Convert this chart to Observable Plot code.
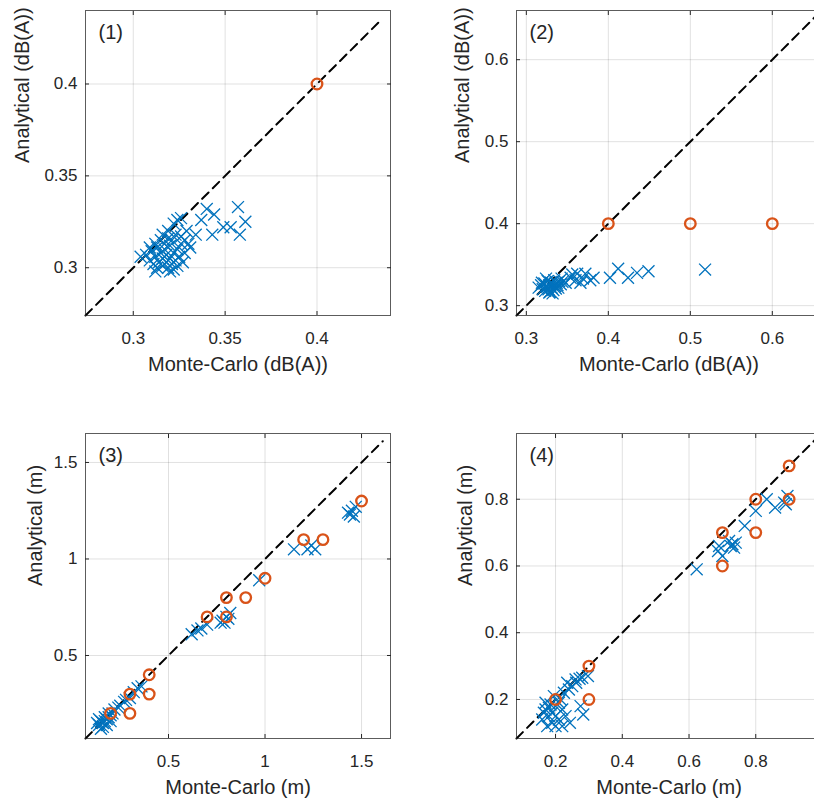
<!DOCTYPE html>
<html><head><meta charset="utf-8">
<script src="https://cdn.jsdelivr.net/npm/d3@7"></script>
<script src="https://cdn.jsdelivr.net/npm/@observablehq/plot@0.6"></script>
<style>
html,body{margin:0;padding:0;background:#fff;}
#root{position:relative;width:814px;height:798px;overflow:hidden;background:#fff;}
.panel{position:absolute;}
</style></head><body><div id="root"></div>
<script>
// ---------- Panel (1) ----------
const p1Ticks = [0.3, 0.35, 0.4];
const p1CrossX = [0.357,0.361,0.358,0.353,0.349,0.340,0.344,0.343,0.337,0.334,0.329,0.331,0.324,0.326,0.322,0.319,0.316,0.315,0.312,0.309,0.304,0.307,
  0.309,0.311,0.312,0.313,0.314,0.315,0.316,0.316,0.317,0.318,0.318,0.319,0.320,0.320,0.321,0.322,0.322,0.323,0.324,0.324,0.325,0.326,0.327,0.328,0.310,0.313,0.317,0.319,0.321,0.323,0.326,0.328,0.330,0.312,0.320];
const p1CrossY = [0.333,0.325,0.318,0.322,0.322,0.332,0.329,0.318,0.326,0.318,0.320,0.311,0.326,0.327,0.324,0.320,0.318,0.315,0.313,0.311,0.306,0.307,
  0.304,0.302,0.306,0.300,0.303,0.308,0.305,0.301,0.310,0.303,0.307,0.300,0.305,0.312,0.302,0.308,0.299,0.304,0.310,0.301,0.306,0.313,0.303,0.308,0.309,0.311,0.313,0.316,0.315,0.318,0.317,0.315,0.313,0.298,0.298];
const p1CircX = [0.4];
const p1CircY = [0.4];

// ---------- Panel (2) ----------
const p2Ticks = [0.3, 0.4, 0.5, 0.6];
const p2CrossX = [0.518,0.449,0.435,0.424,0.412,0.402,0.382,0.372,0.366,0.362,0.378,0.354,0.348,0.369,0.360,0.356,
  0.315,0.318,0.320,0.322,0.323,0.325,0.326,0.327,0.328,0.329,0.330,0.331,0.332,0.333,0.334,0.335,0.336,0.337,0.338,0.340,0.342,0.344,0.324,0.328,0.332,0.339,0.319,0.343];
const p2CrossY = [0.344,0.342,0.340,0.334,0.345,0.334,0.334,0.339,0.328,0.339,0.331,0.334,0.328,0.333,0.331,0.338,
  0.322,0.325,0.320,0.327,0.318,0.323,0.330,0.320,0.325,0.317,0.328,0.322,0.326,0.319,0.331,0.324,0.321,0.328,0.325,0.330,0.326,0.329,0.333,0.316,0.315,0.322,0.328,0.333];
const p2CircX = [0.4, 0.5, 0.6];
const p2CircY = [0.4, 0.4, 0.4];

// ---------- Panel (3) ----------
const p3Ticks = [0.5, 1, 1.5];
const p3CrossX = [1.45,1.44,1.47,1.46,1.43,1.15,1.22,1.24,1.26,0.97,0.78,0.80,0.82,0.79,0.81,0.77,0.62,0.65,0.67,0.70,
  0.36,0.34,0.32,0.30,0.28,0.27,0.25,0.24,0.22,0.21,0.20,0.19,0.18,0.17,0.16,0.15,0.14,0.16,0.15,0.18,0.17,0.19,0.13,0.14,0.20];
const p3CrossY = [1.25,1.23,1.27,1.22,1.24,1.05,1.05,1.07,1.05,0.89,0.68,0.70,0.72,0.67,0.69,0.67,0.61,0.63,0.64,0.66,
  0.34,0.33,0.31,0.28,0.27,0.26,0.24,0.23,0.22,0.20,0.19,0.18,0.17,0.16,0.15,0.16,0.14,0.13,0.12,0.14,0.18,0.20,0.15,0.17,0.16];
const p3CircX = [1.5,1.2,1.3,1.0,0.8,0.9,0.7,0.8,0.4,0.3,0.4,0.3,0.2];
const p3CircY = [1.3,1.1,1.1,0.9,0.8,0.8,0.7,0.7,0.4,0.3,0.3,0.2,0.2];

// ---------- Panel (4) ----------
const p4Ticks = [0.2, 0.4, 0.6, 0.8];
const p4CrossX = [0.623,0.687,0.69,0.72,0.73,0.735,0.725,0.74,0.767,0.80,0.833,0.858,0.885,0.895,0.89,0.70,
  0.297,0.28,0.272,0.262,0.25,0.24,0.235,0.225,0.283,0.275,0.243,0.22,0.21,0.20,0.19,0.18,0.17,0.16,0.175,0.19,0.20,0.21,0.215,0.195,0.185,0.17,0.20,0.23,0.22,0.18,0.165,0.26];
const p4CrossY = [0.59,0.645,0.66,0.675,0.665,0.655,0.66,0.67,0.72,0.765,0.80,0.775,0.79,0.81,0.785,0.63,
  0.27,0.265,0.262,0.25,0.24,0.23,0.25,0.22,0.155,0.18,0.13,0.17,0.19,0.18,0.16,0.15,0.17,0.14,0.12,0.13,0.12,0.14,0.20,0.21,0.185,0.19,0.15,0.15,0.12,0.175,0.16,0.26];
const p4CircX = [0.9,0.9,0.8,0.8,0.7,0.7,0.3,0.3,0.2];
const p4CircY = [0.9,0.8,0.8,0.7,0.7,0.6,0.3,0.2,0.2];

const BLUE = "#0072BD", ORANGE = "#D95319", INK = "#262626";
const ML = 80, MR = 10, MT = 10, MB = 75, BOX = 305;

function panel(cfg) {
  const cross = cfg.crossX.map((x, i) => ({x, y: cfg.crossY[i]}));
  const circ = cfg.circX.map((x, i) => ({x, y: cfg.circY[i]}));
  const fmt = d => String(d);
  const chart = Plot.plot({
    width: ML + BOX + MR,
    height: MT + BOX + MB,
    marginLeft: ML, marginRight: MR, marginTop: MT, marginBottom: MB,
    style: {fontFamily: "'Liberation Sans', Arial, sans-serif", fontSize: "17px", color: INK, background: "transparent", overflow: "visible"},
    x: {domain: cfg.domain, label: null},
    y: {domain: cfg.domain, label: null},
    marks: [
      Plot.gridX(cfg.ticks, {stroke: "#000", strokeOpacity: 0.12}),
      Plot.gridY(cfg.ticks, {stroke: "#000", strokeOpacity: 0.12}),
      Plot.line(cfg.diag, {x: d => d, y: d => d, stroke: "#000", strokeWidth: 2, strokeDasharray: "9,6"}),
      Plot.dot(cross, {x: "x", y: "y", symbol: "times", r: 5.5, stroke: BLUE, strokeWidth: 1.3}),
      Plot.dot(circ, {x: "x", y: "y", symbol: "circle", r: 5.3, stroke: ORANGE, strokeWidth: 2.3, fill: "none"}),
      Plot.frame({stroke: INK, strokeOpacity: 0.75}),
      Plot.axisX({ticks: cfg.ticks, anchor: "bottom", tickSize: -4, tickPadding: 20, tickFormat: fmt, stroke: INK, fontSize: 17}),
      Plot.axisX({ticks: cfg.ticks, anchor: "top", tickSize: -4, tickFormat: () => "", stroke: INK}),
      Plot.axisY({ticks: cfg.ticks, anchor: "left", tickSize: -4, tickPadding: 12, tickFormat: fmt, stroke: INK, fontSize: 17}),
      Plot.axisY({ticks: cfg.ticks, anchor: "right", tickSize: -4, tickFormat: () => "", stroke: INK}),
      Plot.text([cfg.xLabel], {frameAnchor: "bottom", dy: 49, fontSize: 20, fill: INK, lineAnchor: "middle"}),
      Plot.text([cfg.yLabel], {frameAnchor: "left", dx: -cfg.yOff, rotate: -90, fontSize: 20, fill: INK, lineAnchor: "middle"}),
      Plot.text([cfg.tag], {frameAnchor: "top-left", dx: 13, dy: 22, textAnchor: "start", lineAnchor: "middle", fontSize: 20, fill: INK})
    ]
  });
  chart.classList.add("panel");
  chart.style.left = (cfg.left - ML) + "px";
  chart.style.top = (cfg.top - MT) + "px";
  document.getElementById("root").appendChild(chart);
}

panel({tag: "(1)", left: 85, top: 10, domain: [0.274, 0.44], ticks: p1Ticks, diag: [0.274, 0.435],
  crossX: p1CrossX, crossY: p1CrossY, circX: p1CircX, circY: p1CircY,
  xLabel: "Monte-Carlo (dB(A))", yLabel: "Analytical (dB(A))", yOff: 63});
panel({tag: "(2)", left: 516, top: 10, domain: [0.288, 0.66], ticks: p2Ticks, diag: [0.288, 0.66],
  crossX: p2CrossX, crossY: p2CrossY, circX: p2CircX, circY: p2CircY,
  xLabel: "Monte-Carlo (dB(A))", yLabel: "Analytical (dB(A))", yOff: 54});
panel({tag: "(3)", left: 85, top: 433, domain: [0.07, 1.65], ticks: p3Ticks, diag: [0.07, 1.61],
  crossX: p3CrossX, crossY: p3CrossY, circX: p3CircX, circY: p3CircY,
  xLabel: "Monte-Carlo (m)", yLabel: "Analytical (m)", yOff: 50});
panel({tag: "(4)", left: 516, top: 433, domain: [0.083, 0.997], ticks: p4Ticks, diag: [0.083, 0.997],
  crossX: p4CrossX, crossY: p4CrossY, circX: p4CircX, circY: p4CircY,
  xLabel: "Monte-Carlo (m)", yLabel: "Analytical (m)", yOff: 51});
</script>
</body></html>
